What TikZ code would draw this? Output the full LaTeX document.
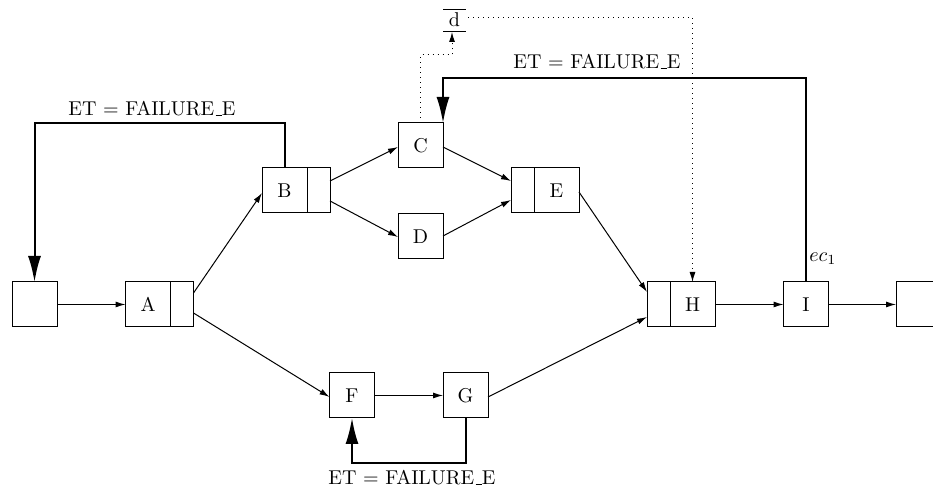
\documentclass[tikz,border=0pt]{standalone}
\usetikzlibrary{arrows.meta,calc}
\newcommand{\myus}{\leavevmode\kern.06em\vbox{\hrule width.3em height 0.7pt}\kern.02em}
\begin{document}
\begin{tikzpicture}[x=0.5pt,y=-0.5pt,
  box/.style={draw,line width=0.5pt,outer sep=0pt,minimum width=22.5pt,minimum height=22.5pt,inner sep=0pt,font=\normalsize},
  sbox/.style={draw,line width=0.5pt,outer sep=0pt,minimum width=11.5pt,minimum height=22.5pt,inner sep=0pt},
  conn/.style={line width=0.5pt,-{Latex[length=5pt,width=3pt]}},
  fb/.style={line width=1pt,-{Latex[length=13pt,width=6.5pt]}},
  dotc/.style={line width=0.5pt,dotted,-{Latex[length=5pt,width=3pt]}},
  lbl/.style={inner sep=0pt}]
\useasboundingbox (0,0) rectangle (933,490);
% nodes
\node[box] (S) at (34.5,304.5) {};
\node[box] (A) at (148,304.5) {A};
\node[sbox,anchor=west] (Ax) at (A.east) {};
\node[box] (B) at (284.5,190.5) {B};
\node[sbox,anchor=west] (Bx) at (B.east) {};
\node[box] (C) at (420.5,145.5) {C};
\node[box] (D) at (420.5,236.5) {D};
\node[box] (E) at (556.5,190.5) {E};
\node[sbox,anchor=east] (Ex) at (E.west) {};
\node[box] (F) at (352,395.5) {F};
\node[box] (G) at (465.5,395.5) {G};
\node[box] (H) at (692.5,304.5) {H};
\node[sbox,anchor=east] (Hx) at (H.west) {};
\node[box] (I) at (806,304.5) {I};
\node[box] (T) at (918.5,304.5) {};
% data store d
\node[minimum width=11.5pt,minimum height=11pt,inner sep=0pt,outer sep=0pt] (d) at (454.5,21) {\raisebox{1pt}{d}};
\draw[line width=0.5pt] (d.north west) -- (d.north east) (d.south west) -- (d.south east);
% connectors
\draw[conn] (S) -- (A);
\draw[conn] ($(Ax.east)+(0,-11.5)$) -- ($(B.west)+(0,2.5)$);
\draw[conn] ($(Ax.east)+(0,8.5)$) -- ($(F.west)+(0,1.5)$);
\draw[conn] ($(Bx.east)+(0,-9.5)$) -- ($(C.west)+(0,1.5)$);
\draw[conn] ($(Bx.east)+(0,10.5)$) -- ($(D.west)+(0,0.5)$);
\draw[conn] ($(C.east)+(0,1.5)$) -- ($(Ex.west)+(0,-9.5)$);
\draw[conn] ($(D.east)+(0,-0.5)$) -- ($(Ex.west)+(0,9.5)$);
\draw[conn] ($(E.east)+(0,1.5)$) -- ($(Hx.west)+(0,-12.5)$);
\draw[conn] ($(G.east)+(0,1.5)$) -- ($(Hx.west)+(0,12.5)$);
\draw[conn] (F) -- (G);
\draw[conn] (H) -- (I);
\draw[conn] (I) -- (T);
% feedback loops
\coordinate (fb1) at (284.5,123);
\coordinate (fb2) at (806,78);
\coordinate (fb3) at (465.5,463);
\draw[fb] (B.north) -- (fb1) -| (S.north);
\draw[fb] (I.north) -- (fb2) -| (C.north east);
\draw[fb] (G.south) -- (fb3) -| (F.south);
\node[lbl] (l1) at (152,109) {ET = FAILURE\myus E};
\node[lbl] (l2) at (597,62) {ET = FAILURE\myus E};
\node[lbl] (l3) at (412,478) {ET = FAILURE\myus E};
\node[lbl,anchor=base west] (ec) at (809,262) {$ec_1$};
% dotted
\coordinate (dt) at (452,55);
\draw[dotc] (C.north) |- (dt) -- (dt |- d.south);
\draw[dotc] ($(d.east)+(2,-3)$) -| (H.north);
\end{tikzpicture}
\end{document}
